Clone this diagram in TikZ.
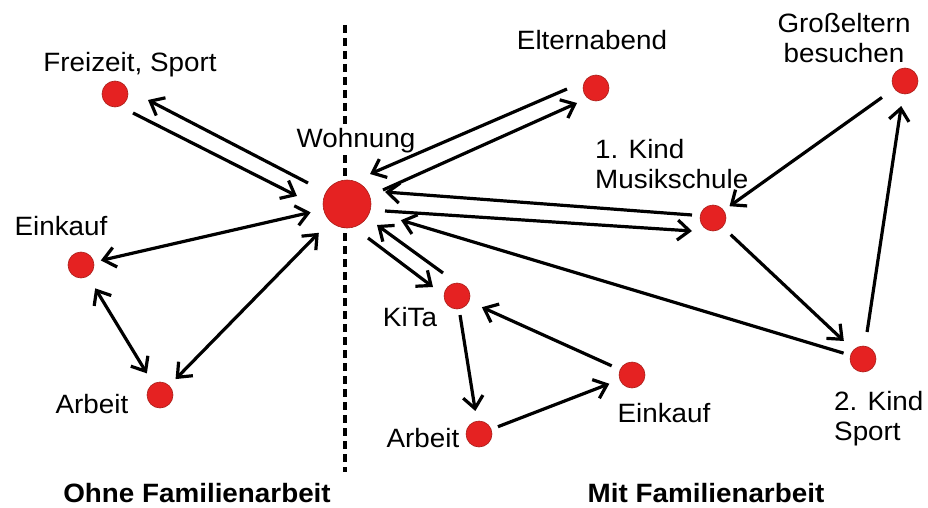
\documentclass[tikz,border=0pt]{standalone}
\usepackage{fontspec}
\setmainfont{Liberation Sans}[FakeStretch=1.05]
\usetikzlibrary{arrows.meta}
\definecolor{punkt}{RGB}{229,34,34}
\definecolor{punktrand}{RGB}{170,30,25}

\begin{document}
\begin{tikzpicture}[x=1pt,y=-1pt,
  ort/.style={circle, fill=punkt, draw=punktrand, line width=0.6pt, inner sep=0pt, minimum size=26pt},
  lbl/.style={font=\fontsize{26.5}{30}\selectfont, inner sep=1pt},
  titel/.style={font=\fontsize{26.5}{30}\selectfont\bfseries, inner sep=0pt},
  pf/.style={line width=3.2pt, -{Straight Barb[length=12pt,width=20pt]}},
  dpf/.style={line width=3.2pt, {Straight Barb[length=12pt,width=20pt]}-{Straight Barb[length=12pt,width=20pt]}}]

\useasboundingbox (0,0) rectangle (928,508);

% Trennlinie
\draw[line width=3.8pt, dash pattern=on 8pt off 5pt] (345,25) -- (345,472);

% Orte
\node[ort] (F) at (115,94) {};
\node[ort, minimum size=48pt] (W) at (347,204) {};
\node[ort] (E1) at (81,265) {};
\node[ort] (A1) at (160,395) {};
\node[ort] (EA) at (596,88) {};
\node[ort] (G) at (905,81) {};
\node[ort] (K1) at (713,218) {};
\node[ort] (K) at (457,296) {};
\node[ort] (A2) at (479,434) {};
\node[ort] (E2) at (632,375) {};
\node[ort] (K2) at (863,359) {};

% Beschriftungen
\node[lbl, anchor=base] (tF) at (130,72) {Freizeit, Sport};
\node[lbl, anchor=base, fill=white, inner sep=3pt] (tW) at (356,147) {Wohnung};
\node[lbl, anchor=base] (tE1) at (61,235) {Einkauf};
\node[lbl, anchor=base] (tA1) at (92,413) {Arbeit};
\node[lbl, anchor=base] (tEA) at (592,50) {Elternabend};
\node[lbl, anchor=north, align=center] (tG) at (844,12) {Großeltern\\besuchen};
\node[lbl, anchor=north west, align=left] (tK1) at (594,138) {1. Kind\\Musikschule};
\node[lbl, anchor=base] (tK) at (410,326) {KiTa};
\node[lbl, anchor=base] (tA2) at (423,447) {Arbeit};
\node[lbl, anchor=base] (tE2) at (664,422) {Einkauf};
\node[lbl, anchor=north west, align=left] (tK2) at (833,390) {2. Kind\\Sport};

% Ohne Familienarbeit
\draw[pf] ([shift={(-39,-21)}]W.center) -- ([shift={(33,6)}]F.center);
\draw[pf] ([shift={(18,19)}]F.center) -- ([shift={(-50,-8)}]W.center);
\draw[dpf, shorten <=7pt, shorten >=13pt] (E1) -- (W);
\draw[dpf, shorten <=9pt, shorten >=16pt] (A1) -- (W);
\draw[dpf, shorten <=14pt, shorten >=12pt] (E1) -- (A1);

% Mit Familienarbeit
\draw[pf] ([shift={(-29,1)}]EA.center) -- ([shift={(23,-30)}]W.center);
\draw[pf] ([shift={(36,-14)}]W.center) -- ([shift={(-19,15)}]EA.center);
\draw[pf] ([shift={(-21,-3)}]K1.center) -- ([shift={(38,-12)}]W.center);
\draw[pf] ([shift={(38,7)}]W.center) -- ([shift={(-21,13)}]K1.center);
\draw[pf] ([shift={(-14,-23)}]K.center) -- ([shift={(30,21)}]W.center);
\draw[pf] ([shift={(21,34)}]W.center) -- ([shift={(-24,-9)}]K.center);
\draw[pf, shorten <=7pt, shorten >=32pt] (K2) -- (W);
\draw[pf, shorten <=6pt, shorten >=10pt] (K) -- (A2);
\draw[pf, shorten <=7pt, shorten >=11pt] (A2) -- (E2);
\draw[pf, shorten <=9pt, shorten >=14pt] (E2) -- (K);
\draw[pf, shorten <=11pt, shorten >=13pt] (K1) -- (K2);
\draw[pf, shorten <=14pt, shorten >=12pt] (K2) -- (G);
\draw[pf, shorten <=15pt, shorten >=7pt] (G) -- (K1);

% Titel
\node[titel, anchor=base] (links) at (197,502) {Ohne Familienarbeit};
\node[titel, anchor=base] (rechts) at (706,502) {Mit Familienarbeit};
\end{tikzpicture}
\end{document}
